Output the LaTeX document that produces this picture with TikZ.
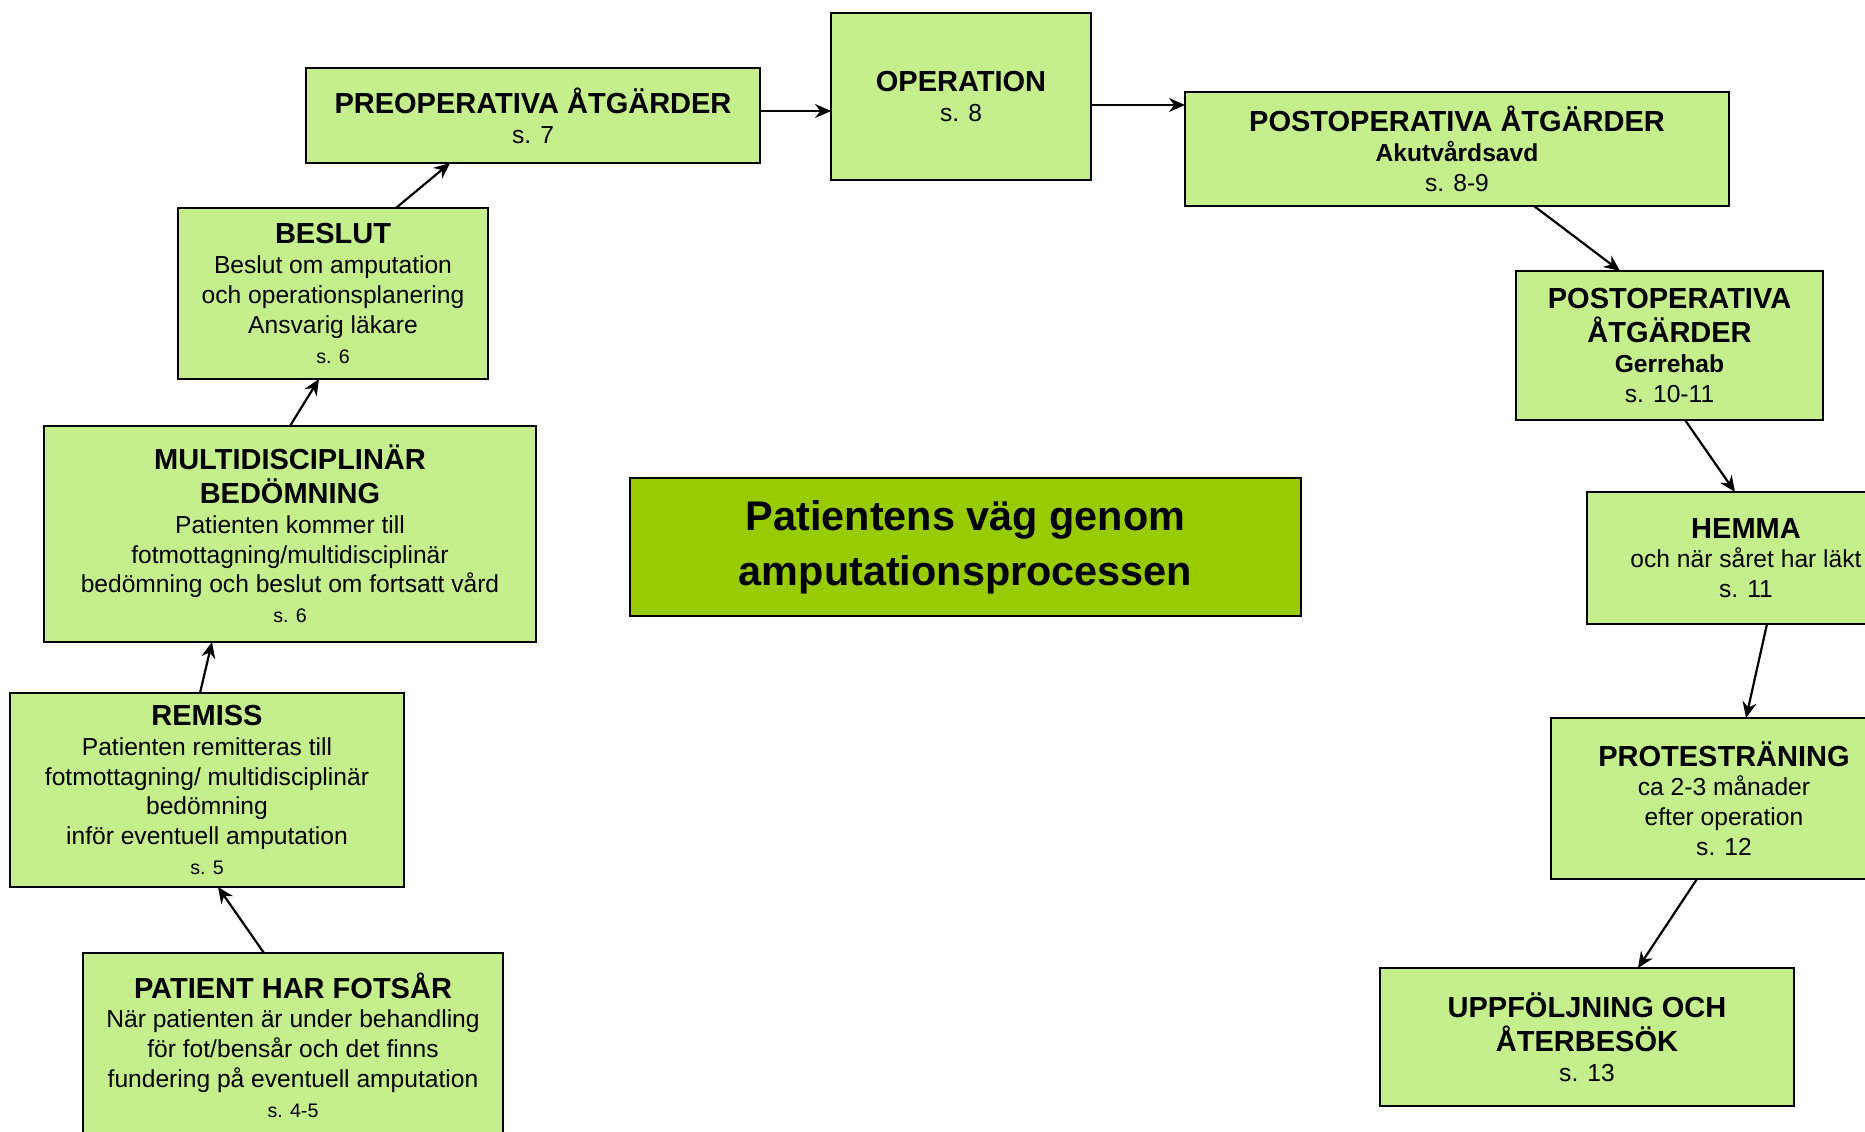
\documentclass[tikz,border=0pt]{standalone}
\usepackage{fontspec}
\setmainfont{Liberation Sans}
\usetikzlibrary{arrows.meta,positioning}
\definecolor{boxgreen}{RGB}{197,239,141}
\definecolor{titlegreen}{RGB}{153,204,0}
\newcommand{\hd}{\fontsize{14.5}{17.5}\selectfont\bfseries}
\newcommand{\sm}{\fontsize{9.8}{12}\selectfont}
\tikzset{
    flowedge/.style   = {black, ->, >={Stealth[length=8pt, width=7pt]}, line width=1.1pt},
    stepbox/.style 2 args = {draw, fill=boxgreen, line width=0.8pt, outer sep=0pt, minimum width=#1, minimum height=#2, inner sep=2pt},
}

\begin{document}
\begin{tikzpicture}[x=0.5pt, y=-0.5pt]
        \useasboundingbox (0,0) rectangle (1865,1131);
        \clip (0,0) rectangle (1865,1131);
        \tikzstyle{every node} = [align=center, font=\fontsize{12.3}{14.9}\selectfont]
        \node[stepbox={210pt}{92pt}] (fotsar) at (293,1045) {{\hd PATIENT HAR FOTSÅR}\\ När patienten är under behandling\\ för fot/bensår och det finns\\ fundering på eventuell amputation\\ {\sm s. 4-5}};
        \node[stepbox={197pt}{97pt}, above=33pt of fotsar, xshift=-43pt] (remiss) {{\hd REMISS}\\ Patienten remitteras till\\ fotmottagning/ multidisciplinär\\ bedömning\\ inför eventuell amputation\\ {\sm s. 5}};
        \node[stepbox={246pt}{108pt}, above=25.5pt of remiss, xshift=41.5pt] (multi) {{\hd MULTIDISCIPLINÄR}\\[2pt] {\hd BEDÖMNING}\\ Patienten kommer till\\ fotmottagning/multidisciplinär\\ bedömning och beslut om fortsatt vård\\ {\sm s. 6}};
        \node[stepbox={155pt}{85.5pt}, above=23.5pt of multi, xshift=21.5pt] (beslut) {{\hd BESLUT}\\ Beslut om amputation\\ och operationsplanering\\ Ansvarig läkare\\ {\sm s. 6}};
        \node[stepbox={227pt}{47.5pt}, above=22.5pt of beslut, xshift=100pt] (preop) {{\hd PREOPERATIVA ÅTGÄRDER}\\ s. 7};
        \node[stepbox={130pt}{83.5pt}, right=35.5pt of preop, yshift=9.5pt] (oper) {{\hd OPERATION}\\ s. 8};
        \node[stepbox={272pt}{57pt}, right=47pt of oper, yshift=-26.25pt] (postakut) {{\hd POSTOPERATIVA ÅTGÄRDER}\\ {\bfseries Akutvårdsavd}\\ s. 8-9};
        \node[stepbox={153.5pt}{74.5pt}, below=32.5pt of postakut, xshift=106.25pt] (postger) {{\hd POSTOPERATIVA}\\[2pt] {\hd ÅTGÄRDER}\\ {\bfseries Gerrehab}\\ s. 10-11};
        \node[stepbox={159pt}{66pt}, below=36pt of postger, xshift=38.25pt] (hemma) {{\hd HEMMA}\\ och när såret har läkt\\ s. 11};
        \node[stepbox={173pt}{80.5pt}, below=47pt of hemma, xshift=-11pt] (protes) {{\hd PROTESTRÄNING}\\ ca 2-3 månader\\ efter operation\\ s. 12};
        \node[stepbox={207pt}{69pt}, below=44.5pt of protes, xshift=-68.5pt] (uppf) {{\hd UPPFÖLJNING OCH}\\[2pt] {\hd ÅTERBESÖK}\\ s. 13};
        \node[draw, fill=titlegreen, line width=0.8pt, minimum width=335.5pt, minimum height=69pt, font=\fontsize{20.7}{27.5}\selectfont\bfseries] (title) at (965.5,547) {Patientens väg genom\\ amputationsprocessen};

        \path ([xshift=-14.5pt]fotsar.north) edge[flowedge] ([xshift=5.5pt]remiss.south);
        \path ([xshift=-3.5pt]remiss.north) edge[flowedge] ([xshift=-39pt]multi.south);
        \path (multi.north) edge[flowedge] ([xshift=-7pt]beslut.south);
        \path ([xshift=31.5pt]beslut.north) edge[flowedge] ([xshift=-41.5pt]preop.south);
        \path ([yshift=2.25pt]preop.east) edge[flowedge] ([yshift=2.25pt]preop.east -| oper.west);
        \path ([yshift=-4.25pt]oper.east) edge[flowedge] ([yshift=-4.25pt]oper.east -| postakut.west);
        \path ([xshift=38.5pt]postakut.south) edge[flowedge] ([xshift=-24.75pt]postger.north);
        \path ([xshift=7.75pt]postger.south) edge[flowedge] ([xshift=-5.5pt]hemma.north);
        \path ([xshift=10.5pt]hemma.south) edge[flowedge] ([xshift=11pt]protes.north);
        \path ([xshift=-13.5pt]protes.south) edge[flowedge] ([xshift=25.5pt]uppf.north);
    \end{tikzpicture}
\end{document}
